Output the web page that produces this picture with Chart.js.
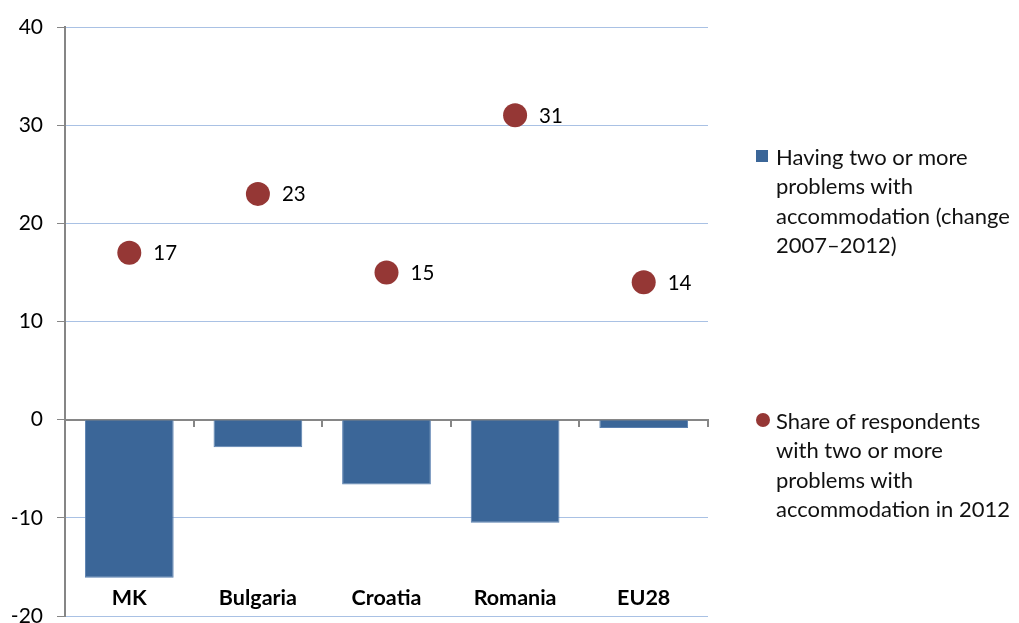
<!DOCTYPE html>
<html>
<head>
<meta charset="utf-8">
<script src="https://cdn.jsdelivr.net/npm/chart.js@4/dist/chart.umd.min.js"></script>
<style>
  html, body { margin: 0; padding: 0; background: #fff; }
  #wrap { position: relative; width: 1019px; height: 623px; overflow: hidden; }
  canvas { position: absolute; left: 0; top: 0; }
  .legend { position: absolute; left: 756px; font-family: Lato, "Open Sans", sans-serif; font-size: 22px; line-height: 29.3px; color: #111; white-space: nowrap; }
  .legend .item { position: relative; padding-left: 20px; }
  .legend .sq { position: absolute; left: 0; top: 8px; width: 12px; height: 12px; background: #3b6698; }
  .legend .dot { position: absolute; left: 0; top: 7px; width: 14px; height: 14px; border-radius: 50%; background: #953735; }
</style>
</head>
<body>
<div id="wrap">
  <canvas id="c" width="1019" height="628"></canvas>
  <div class="legend" style="top:142px"><div class="item"><span class="sq"></span>Having two or more<br>problems with<br>accommodation (change<br>2007–2012)</div></div>
  <div class="legend" style="top:406px"><div class="item"><span class="dot"></span>Share of respondents<br>with two or more<br>problems with<br>accommodation in 2012</div></div>
</div>
<script>
const categories = ['MK', 'Bulgaria', 'Croatia', 'Romania', 'EU28'];
const changeValues = [-16.1, -2.8, -6.6, -10.5, -0.85];
const shareValues = [17, 23, 15, 31, 14];
const yTicks = [-20, -10, 0, 10, 20, 30, 40];

const AXIS_GREY = '#868686';
const GRID_BLUE = '#a9c1e4';
const FONT = 'Lato, "Open Sans", sans-serif';

// Category names along the bottom and value labels beside the dots
const labelPlugin = {
  id: 'labels',
  afterDraw(chart) {
    const ctx = chart.ctx;
    const xs = chart.scales.x;
    ctx.save();
    ctx.fillStyle = '#000';
    ctx.textBaseline = 'middle';
    ctx.textAlign = 'center';
    ctx.font = 'bold 21.5px ' + FONT;
    categories.forEach((c, i) => {
      ctx.fillText(c, xs.getPixelForValue(i), chart.chartArea.bottom - 18);
    });
    ctx.textAlign = 'left';
    ctx.font = '20.5px ' + FONT;
    const meta = chart.getDatasetMeta(1);
    meta.data.forEach((pt, i) => {
      ctx.fillText(String(shareValues[i]), pt.x + 24, pt.y + 1);
    });
    ctx.restore();
  }
};

new Chart(document.getElementById('c'), {
  data: {
    labels: categories,
    datasets: [
      {
        type: 'bar',
        label: 'Having two or more problems with accommodation (change 2007–2012)',
        data: changeValues,
        backgroundColor: '#3b6698',
        borderColor: '#5a80b0',
        borderWidth: 1,
        borderSkipped: 'start',
        categoryPercentage: 1,
        barPercentage: 0.69,
        order: 2
      },
      {
        type: 'line',
        label: 'Share of respondents with two or more problems with accommodation in 2012',
        data: shareValues,
        showLine: false,
        pointRadius: 12,
        pointHoverRadius: 12,
        pointBackgroundColor: '#953735',
        pointBorderColor: '#953735',
        pointBorderWidth: 0,
        order: 1
      }
    ]
  },
  options: {
    responsive: false,
    animation: false,
    events: [],
    layout: { padding: { top: 27, right: 311, bottom: 8, left: 0 } },
    plugins: { legend: { display: false }, tooltip: { enabled: false } },
    scales: {
      x: {
        type: 'category',
        position: { y: 0 },
        z: 1,
        afterFit(scale) { scale.height = 0; },
        grid: { offset: true, drawOnChartArea: false, drawTicks: true, tickLength: 6, tickColor: AXIS_GREY, lineWidth: 2 },
        border: { color: AXIS_GREY, width: 2 },
        ticks: { display: false }
      },
      y: {
        min: -20,
        max: 40,
        afterBuildTicks(scale) { scale.ticks = yTicks.map(v => ({ value: v })); },
        afterFit(scale) {
          scale.width = 65;
          scale.paddingTop = 0;
          scale.paddingBottom = 0;
        },
        grid: {
          color: ctx => (ctx.tick && ctx.tick.value === 0 ? AXIS_GREY : GRID_BLUE),
          lineWidth: 1,
          tickColor: AXIS_GREY,
          tickLength: 8,
          drawTicks: true
        },
        border: { color: AXIS_GREY, width: 2 },
        ticks: { color: '#000', font: { family: FONT, size: 21 }, padding: 14 }
      }
    }
  },
  plugins: [labelPlugin]
});
</script>
</body>
</html>
